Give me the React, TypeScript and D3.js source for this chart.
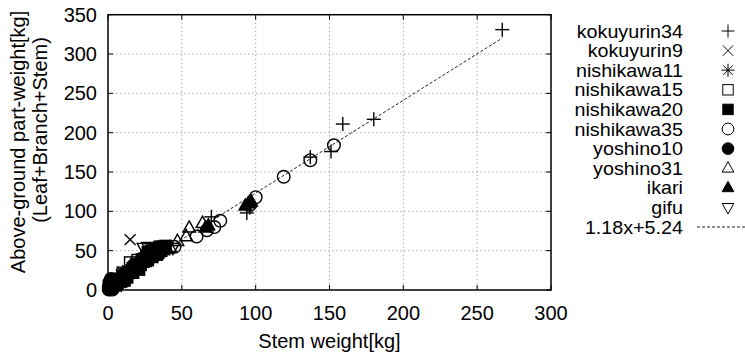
import React from "react";
import * as d3 from "d3";

type P = [number, number];

const kokuyurin34: P[] = [[267, 331], [180, 217], [159, 211], [151, 176], [137, 169], [94, 98], [70, 93], [96, 105], [30, 42], [20, 28], [10, 15]];
const kokuyurin9: P[] = [[15, 64], [5, 8], [8, 12], [3, 5], [12, 18], [9, 19]];
const nishikawa11: P[] = [[1, 2], [2, 3], [2, 5], [3, 5], [4, 6], [5, 8], [6, 9], [7, 10], [8, 12], [9, 14], [10, 15], [11, 16], [12, 18], [14, 20], [15, 21], [17, 24], [19, 27], [21, 29], [4, 12], [7, 16], [10, 22], [13, 25], [16, 29], [3, 10], [6, 4], [9, 9], [12, 12]];
const nishikawa15: P[] = [[15, 35], [10, 22], [18, 30], [22, 33], [20, 38], [25, 40], [6, 10]];
const nishikawa20: P[] = [[25, 40], [28, 45], [30, 48], [32, 50], [33, 53], [35, 55], [37, 55], [36, 50], [30, 42], [27, 38], [22, 32], [20, 30], [18, 28], [16, 25], [14, 22], [12, 20], [10, 17], [8, 14], [38, 52], [34, 47], [24, 36], [6, 10], [4, 7], [26, 44], [29, 50], [31, 53], [23, 39], [19, 33], [17, 22], [21, 26], [13, 16], [11, 12], [9, 11], [33, 45], [35, 52], [39, 56], [27, 48]];
const nishikawa35: P[] = [[153, 184], [137, 165], [119, 144], [100, 118], [96, 108], [76, 88], [72, 80], [67, 76], [60, 68], [45, 55], [2, 3], [5, 6]];
const yoshino10: P[] = [[1, 2], [2, 3], [3, 4], [4, 6], [5, 7], [1, 1], [3, 2], [6, 8], [2, 1], [1, 6], [2, 9], [3, 12], [0.5, 4], [4, 3], [5, 11], [7, 7], [1, 10], [2, 14], [0.5, 0.5], [3, 0.5]];
const yoshino31: P[] = [[47, 62], [53, 68], [55, 79], [64, 85], [20, 30], [30, 45], [35, 48], [42, 54]];
const ikari: P[] = [[95, 110], [93, 107], [97, 112], [68, 82], [66, 79], [40, 52], [25, 35]];
const gifu: P[] = [[27, 55], [24, 54], [18, 30], [12, 20], [44, 54]];

const seriesNames = ["kokuyurin34", "kokuyurin9", "nishikawa11", "nishikawa15", "nishikawa20", "nishikawa35", "yoshino10", "yoshino31", "ikari", "gifu"];
const seriesData = [kokuyurin34, kokuyurin9, nishikawa11, nishikawa15, nishikawa20, nishikawa35, yoshino10, yoshino31, ikari, gifu];
const seriesMarkers = ["plus", "cross", "star", "square", "squareFilled", "circle", "circleFilled", "triUp", "triUpFilled", "triDown"];

const fitSlope = 1.18;
const fitIntercept = 5.24;
const fitLabel = "1.18x+5.24";
const fitRange: [number, number] = [0, 267];

const xTicks = [0, 50, 100, 150, 200, 250, 300];
const yTicks = [0, 50, 100, 150, 200, 250, 300, 350];

const W = 745, H = 355;
const M = { left: 108, right: 551, top: 14.7, bottom: 290 };
const FONT = "'Liberation Sans', Arial, Helvetica, sans-serif";
const FS = 20;
const LFS = 17;

function Marker({ type, x, y, s, w }: { type: string; x: number; y: number; s: number; w: number }) {
  const st = { stroke: "#000", strokeWidth: w };
  switch (type) {
    case "plus":
      return <g {...st}><line x1={x - s} x2={x + s} y1={y} y2={y} /><line x1={x} x2={x} y1={y - s} y2={y + s} /></g>;
    case "cross": {
      const c = s * 0.78;
      return <g {...st}><line x1={x - c} x2={x + c} y1={y - c} y2={y + c} /><line x1={x - c} x2={x + c} y1={y + c} y2={y - c} /></g>;
    }
    case "star": {
      const c = s * 0.72;
      return <g {...st}><line x1={x - s} x2={x + s} y1={y} y2={y} /><line x1={x} x2={x} y1={y - s} y2={y + s} /><line x1={x - c} x2={x + c} y1={y - c} y2={y + c} /><line x1={x - c} x2={x + c} y1={y + c} y2={y - c} /></g>;
    }
    case "square":
    case "squareFilled": {
      const h = s * 0.8;
      return <rect x={x - h} y={y - h} width={2 * h} height={2 * h} fill={type === "square" ? "none" : "#000"} {...st} />;
    }
    case "circle":
    case "circleFilled":
      return <circle cx={x} cy={y} r={s * 0.9} fill={type === "circle" ? "none" : "#000"} {...st} />;
    case "triUp":
    case "triUpFilled": {
      const pts = [[x, y - s], [x + s * 0.9, y + s * 0.6], [x - s * 0.9, y + s * 0.6]].map(p => p.join(",")).join(" ");
      return <polygon points={pts} fill={type === "triUp" ? "none" : "#000"} {...st} />;
    }
    case "triDown": {
      const pts = [[x, y + s], [x + s * 0.9, y - s * 0.6], [x - s * 0.9, y - s * 0.6]].map(p => p.join(",")).join(" ");
      return <polygon points={pts} fill="none" {...st} />;
    }
  }
  return null;
}

export default function App() {
  const x = d3.scaleLinear().domain([0, 300]).range([M.left, M.right]);
  const y = d3.scaleLinear().domain([0, 350]).range([M.bottom, M.top]);
  const fitPath = d3.line<number>().x(d => x(d)).y(d => y(fitSlope * d + fitIntercept))(fitRange) || "";
  const tick = 5;
  const legendTextX = 683;
  const legendMarkX = 728;
  const legendY0 = 31;
  const legendDy = 19.6;
  const sx = 1.16;

  return (
    <svg width={W} height={H} style={{ position: "absolute", left: 0, top: 0, background: "#fff" }} fontFamily={FONT}>
      <rect width={W} height={H} fill="#fff" />
      <g stroke="#999" strokeWidth={0.8} strokeDasharray="1.5,2.5">
        {xTicks.slice(1, -1).map(t => <line key={"gx" + t} x1={x(t)} x2={x(t)} y1={M.top} y2={M.bottom} />)}
        {yTicks.slice(1, -1).map(t => <line key={"gy" + t} x1={M.left} x2={M.right} y1={y(t)} y2={y(t)} />)}
      </g>
      <g stroke="#000" strokeWidth={1}>
        {xTicks.map(t => <g key={"tx" + t}><line x1={x(t)} x2={x(t)} y1={M.bottom} y2={M.bottom - tick} /><line x1={x(t)} x2={x(t)} y1={M.top} y2={M.top + tick} /></g>)}
        {yTicks.map(t => <g key={"ty" + t}><line x1={M.left} x2={M.left + tick} y1={y(t)} y2={y(t)} /><line x1={M.right} x2={M.right - tick} y1={y(t)} y2={y(t)} /></g>)}
      </g>
      <path d={fitPath} fill="none" stroke="#222" strokeWidth={1} strokeDasharray="3,2" />
      {seriesData.map((data, i) => (
        <g key={seriesNames[i]}>
          {data.map((d, j) => <Marker key={j} type={seriesMarkers[i]} x={x(d[0])} y={y(d[1])} s={7} w={1.4} />)}
        </g>
      ))}
      <rect x={M.left} y={M.top} width={M.right - M.left} height={M.bottom - M.top} fill="none" stroke="#000" strokeWidth={1.5} />
      <g fontSize={FS} fill="#000">
        {xTicks.map(t => <text key={"lx" + t} x={x(t)} y={319.5} textAnchor="middle">{t}</text>)}
        {yTicks.map(t => <text key={"ly" + t} x={97} y={y(t) + 7} textAnchor="end">{t}</text>)}
      </g>
      <text x={(M.left + M.right) / 2} y={348} textAnchor="middle" fontSize={FS}>Stem weight[kg]</text>
      <text transform={`translate(25,142) rotate(-90)`} textAnchor="middle" fontSize={FS}>Above-ground part-weight[kg]</text>
      <text transform={`translate(47,130) rotate(-90)`} textAnchor="middle" fontSize={FS}>(Leaf+Branch+Stem)</text>
      <g>
        {seriesNames.map((n, i) => (
          <g key={"lg" + n}>
            <text transform={`translate(${legendTextX},${legendY0 + i * legendDy + 6.5}) scale(${sx},1.08)`} textAnchor="end" fontSize={LFS}>{n}</text>
            <Marker type={seriesMarkers[i]} x={legendMarkX} y={legendY0 + i * legendDy} s={6.5} w={1} />
          </g>
        ))}
        <text transform={`translate(${legendTextX},${legendY0 + 10 * legendDy + 6.5}) scale(${sx},1.08)`} textAnchor="end" fontSize={LFS}>{fitLabel}</text>
        <line x1={697} x2={745} y1={legendY0 + 10 * legendDy} y2={legendY0 + 10 * legendDy} stroke="#222" strokeWidth={1} strokeDasharray="3,2" />
      </g>
    </svg>
  );
}
